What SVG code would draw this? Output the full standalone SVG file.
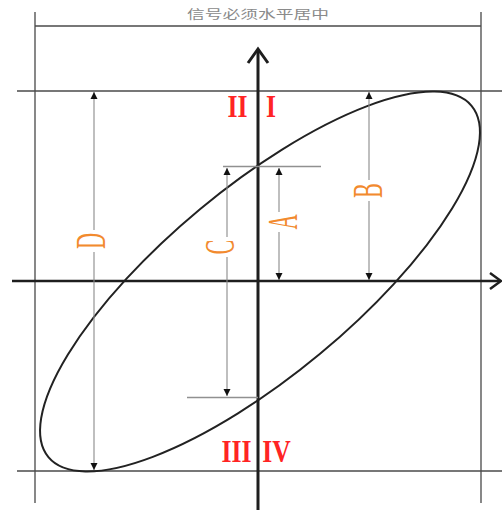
<svg xmlns="http://www.w3.org/2000/svg" width="502" height="510" viewBox="0 0 502 510">
<style>
.frame{stroke:#6a6a6a;stroke-width:1.6;fill:none}
.hline{stroke:#4a4a4a;stroke-width:1.6;fill:none}
.axis{stroke:#1e1e1e;stroke-width:3;fill:none}
.dim{stroke:#8a8a8a;stroke-width:1.1;fill:none}
.ext{stroke:#909090;stroke-width:1.3;fill:none}
.curve{stroke:#222;stroke-width:2;fill:none}
.lbl{font-family:"Liberation Serif","Times New Roman",serif;font-size:42px;fill:#f28a2e;text-anchor:middle}
.roman{font-family:"Liberation Serif","Times New Roman",serif;font-size:32px;font-weight:bold;fill:#ff2424;text-anchor:middle}
.title{font-family:"Noto Sans CJK SC",sans-serif;font-size:12px;fill:#8a8a8a;text-anchor:middle}
</style>
<defs>
<marker id="ah" viewBox="0 0 10 10" refX="10" refY="5" markerWidth="7" markerHeight="8" orient="auto-start-reverse" markerUnits="userSpaceOnUse">
<path d="M0,0 L10,5 L0,10 z" fill="#111"/>
</marker>
</defs>
<rect width="502" height="510" fill="#fff"/>

<g id="frame">
<line class="frame" x1="35" y1="12" x2="35" y2="503"/>
<line class="frame" x1="481" y1="12" x2="481" y2="503"/>
<line class="hline" x1="35" y1="26" x2="481" y2="26"/>
<line class="hline" x1="17" y1="91" x2="502" y2="91"/>
<line class="hline" x1="17" y1="471" x2="502" y2="471"/>
</g>

<g id="title">
<text class="title" x="258" y="19" textLength="142" lengthAdjust="spacingAndGlyphs">信号必须水平居中</text>
</g>

<g id="ellipse">
<ellipse class="curve" cx="260" cy="281.5" rx="275" ry="94" transform="rotate(-39.7 260 281.5)"/>
</g>

<g id="axes">
<line class="axis" x1="258" y1="510" x2="258" y2="50"/>
<path class="axis" d="M248,63 L258,49 L268,63" stroke-linejoin="miter"/>
<line class="axis" x1="12" y1="281" x2="500" y2="281" style="stroke-width:2.5"/>
<path class="axis" d="M490,273 L501,281 L490,289" style="stroke-width:2.5"/>
</g>

<g id="connectors">
<line class="ext" x1="223" y1="166.5" x2="321" y2="166.5"/>
<line class="ext" x1="187" y1="397.5" x2="258" y2="397.5"/>
<line class="dim" x1="94" y1="92" x2="94" y2="470" marker-start="url(#ah)" marker-end="url(#ah)"/>
<line class="dim" x1="369" y1="92" x2="369" y2="280" marker-start="url(#ah)" marker-end="url(#ah)"/>
<line class="dim" x1="279" y1="168" x2="279" y2="280" marker-start="url(#ah)" marker-end="url(#ah)"/>
<line class="dim" x1="227" y1="168" x2="227" y2="396" marker-start="url(#ah)" marker-end="url(#ah)"/>
</g>

<g id="label-D">
<rect x="84" y="230" width="20" height="22" fill="#fff"/>
<text class="lbl" transform="translate(91,241) rotate(-90) scale(0.53,1)" x="0" y="14">D</text>
</g>
<g id="label-B">
<rect x="359" y="180" width="20" height="21" fill="#fff"/>
<text class="lbl" transform="translate(368,190.5) rotate(-90) scale(0.53,1)" x="0" y="14">B</text>
</g>
<g id="label-A">
<rect x="270" y="212" width="20" height="20" fill="#fff"/>
<text class="lbl" transform="translate(282.5,222) rotate(-90) scale(0.5,1)" x="0" y="14">A</text>
</g>
<g id="label-C">
<rect x="217" y="237" width="20" height="20" fill="#fff"/>
<text class="lbl" transform="translate(220,247) rotate(-90) scale(0.53,1)" x="0" y="14">C</text>
</g>

<g id="quadrants">
<text class="roman" transform="translate(237.5,117) scale(0.8,1)">II</text>
<text class="roman" transform="translate(271,117) scale(0.8,1)">I</text>
<text class="roman" transform="translate(236.5,462) scale(0.8,1)">III</text>
<text class="roman" transform="translate(276.5,462) scale(0.8,1)">IV</text>
</g>
</svg>
